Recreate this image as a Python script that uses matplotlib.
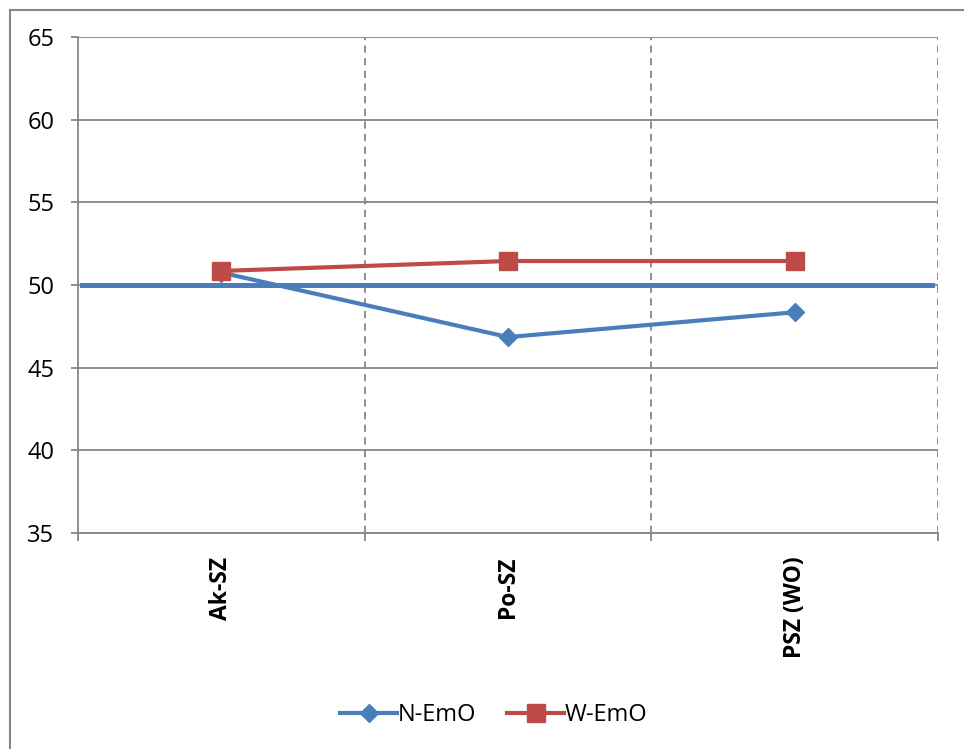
import matplotlib.pyplot as plt
from matplotlib.lines import Line2D

# данные
categories = ['Ak-SZ', 'Po-SZ', 'PSZ (WO)']
n_emo = [50.75, 46.85, 48.35]
w_emo = [50.85, 51.45, 51.45]
reference_level = 50
y_ticks = [35, 40, 45, 50, 55, 60, 65]

blue = '#4A7EBB'
red = '#BE4B48'
gray = '#868686'

plt.rcParams['font.family'] = ['Open Sans', 'DejaVu Sans']

fig = plt.figure(figsize=(9.64, 7.49), dpi=100)
ax = fig.add_axes([78 / 964, 1 - 533 / 749, (938 - 78) / 964, (533 - 37) / 749])

# рамка области диаграммы (только верх и левый край видны)
fig.add_artist(Line2D([10 / 964, 10 / 964], [0, 1 - 10 / 749], color=gray, lw=1.5,
                      transform=fig.transFigure))
fig.add_artist(Line2D([10 / 964, 1], [1 - 10 / 749, 1 - 10 / 749], color=gray, lw=1.5,
                      transform=fig.transFigure))

x = list(range(len(categories)))

# сетка
for y in y_ticks:
    ax.axhline(y, color=gray, lw=1.3, zorder=1)
for xv in [0.5, 1.5, 2.5]:
    ax.axvline(xv, color=gray, lw=1.3, ls=(0, (4, 3)), zorder=1)

ax.axhline(reference_level, xmin=0.005, xmax=0.993, color=blue, lw=3.6, zorder=2)

ax.plot(x, n_emo, color=blue, lw=3, marker='D', ms=9.5, label='N-EmO', zorder=3)
ax.plot(x, w_emo, color=red, lw=3, marker='s', ms=13.5, label='W-EmO', zorder=4)

ax.set_xlim(-0.5, 2.5)
ax.set_ylim(35, 65)
ax.set_yticks(y_ticks)
ax.set_yticklabels([str(v) for v in y_ticks], fontsize=17)

ax.set_xticks(x)
ax.set_xticklabels(categories, rotation=90, fontsize=16.5, fontweight='bold', va='top', ha='center')
ax.tick_params(axis='x', which='major', length=0, pad=17)
ax.set_xticks([-0.5, 0.5, 1.5, 2.5], minor=True)
ax.tick_params(axis='x', which='minor', length=6, color=gray, width=1.3)
ax.tick_params(axis='y', length=5, color=gray, width=1.3, pad=12)

for s in ['top', 'right']:
    ax.spines[s].set_visible(False)
for s in ['left', 'bottom']:
    ax.spines[s].set_color(gray)
    ax.spines[s].set_linewidth(1.3)

fig.legend(loc='center', bbox_to_anchor=(494 / 964, 1 - 715 / 749), ncol=2, frameon=False,
           fontsize=17, handlelength=2.4, handletextpad=0.05, columnspacing=1.3)

plt.savefig('out.png', dpi=100)
